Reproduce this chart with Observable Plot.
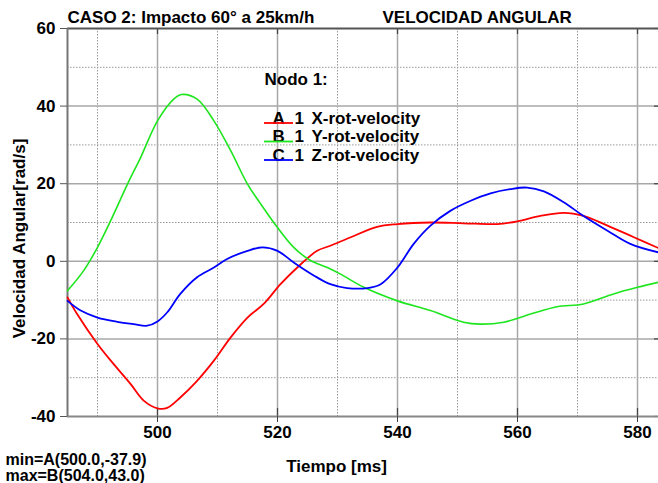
<!DOCTYPE html>
<html><head><meta charset="utf-8">
<script src="https://cdn.jsdelivr.net/npm/d3@7"></script>
<script src="https://cdn.jsdelivr.net/npm/@observablehq/plot@0.6"></script>
<style>body{margin:0;background:#fff;overflow:hidden}</style>
</head><body><div id="chart"></div>
<script>
// ---- data ----
const tX = [485, 486.6, 490, 492.7, 495.5, 497.7, 500, 501.6, 503.8, 506.6, 509.4, 512.2, 515, 517.7, 520.5, 523.3, 526.6, 528.8, 532.2, 536.6, 540, 545.5, 551, 556.6, 560, 563.8, 567.7, 571, 575, 579.4, 583.5];
const vX = [-9.3, -13.6, -21.3, -26.5, -31.6, -35.9, -37.9, -37.8, -35.1, -30.8, -25.6, -19.6, -14.5, -11.0, -5.9, -1.6, 2.7, 4.0, 6.2, 8.9, 9.6, 10.0, 9.8, 9.6, 10.3, 11.7, 12.5, 11.7, 9.2, 6.2, 3.4];
const tY = [485, 487.7, 490, 492.2, 495, 497.2, 500, 502.7, 504, 506.6, 509.4, 512.2, 515, 517.2, 520, 522.7, 525.5, 528.3, 530.5, 534.4, 540, 545.5, 551, 553.8, 557.7, 562.2, 566.6, 571, 576, 580, 583.5];
const vY = [-7.6, -2.4, 3.6, 10.5, 19.9, 26.8, 36.2, 41.8, 43.0, 41.8, 36.2, 28.5, 19.9, 14.8, 8.7, 3.6, 0.2, -1.6, -3.3, -6.7, -10.2, -12.7, -15.7, -16.2, -15.7, -13.6, -11.7, -11.0, -8.4, -6.7, -5.4];
const tZ = [485, 487.2, 490, 493.3, 496, 498.3, 500, 501.6, 503.8, 506.6, 509.4, 511.6, 515, 517.5, 520, 522.7, 526.1, 528.8, 531.6, 535, 537.2, 540, 542.7, 545.5, 548.8, 552.2, 555.5, 558.8, 561.6, 564.4, 567.7, 571, 575, 578.8, 583.5];
const vZ = [-10.2, -12.7, -14.5, -15.6, -16.2, -16.6, -15.5, -13.2, -8.4, -4.1, -1.6, 0.6, 2.7, 3.6, 2.7, -0.3, -3.7, -5.9, -6.9, -6.9, -5.9, -1.6, 4.5, 9.2, 13.0, 15.6, 17.5, 18.6, 19.0, 18.0, 15.2, 11.7, 7.9, 4.5, 2.3];

const xMajor = [500, 520, 540, 560, 580];
const xMinor = [490, 510, 530, 550, 570];
const yMajor = [-40, -20, 0, 20, 40, 60];
const yMinor = [-30, -10, 10, 30, 50];

const legendKeys = ["A", "B", "C"];
const legendNums = ["1", "1", "1"];
const legendNames = ["X-rot-velocity", "Y-rot-velocity", "Z-rot-velocity"];
const colors = ["#ff0000", "#1ee61e", "#0000ff"];

const titleLeft = "CASO 2: Impacto 60° a 25km/h";
const titleRight = "VELOCIDAD ANGULAR";
const xLabel = "Tiempo [ms]";
const yLabel = "Velocidad Angular[rad/s]";
const legendTitle = "Nodo 1:";
const minText = "min=A(500.0,-37.9)";
const maxText = "max=B(504.0,43.0)";

// ---- layout ----
const W = 658, H = 483, ML = 67, MR = 0, MT = 28, MB = 67;
const FH = H - MT - MB, FW = W - ML - MR;
const FONT = "Liberation Sans, Arial, sans-serif";

const toRows = (ts, vs) => ts.map((t, i) => ({t, v: vs[i]}));

function txt(s, px, py, o = {}) {
  return Plot.text([s], {text: d => d, frameAnchor: "top-left", dx: px - ML, dy: py - MT,
    textAnchor: "start", lineAnchor: "bottom", fill: "#000", fontSize: 17, fontWeight: "bold", ...o});
}

const legendMarks = [];
legendKeys.forEach((k, i) => {
  const by = 123 + i * 18.5;
  legendMarks.push(txt(k, 272, by));
  legendMarks.push(txt(legendNums[i], 294, by));
  legendMarks.push(txt(legendNames[i], 311, by));
});

const chart = Plot.plot({
  width: W, height: H,
  marginLeft: ML, marginRight: MR, marginTop: MT, marginBottom: MB,
  x: {domain: [485, 583.5]},
  y: {domain: [-40, 60]},
  style: {fontFamily: FONT, fontSize: "17px", fontWeight: "bold", background: "#fff", overflow: "visible"},
  marks: [
    Plot.ruleX(xMinor, {stroke: "#999", strokeDasharray: "1.5,1.5", strokeWidth: 1}),
    Plot.ruleY(yMinor, {stroke: "#999", strokeDasharray: "1.5,1.5", strokeWidth: 1}),
    Plot.ruleX(xMajor, {stroke: "#a8a8a8", strokeWidth: 1.5}),
    Plot.ruleY(yMajor.slice(1, -1), {stroke: "#a8a8a8", strokeWidth: 1.5}),
    Plot.ruleX(xMajor, {stroke: "#444", strokeWidth: 1.2, insetBottom: FH - 6}),
    Plot.ruleX(xMajor, {stroke: "#444", strokeWidth: 1.2, insetTop: FH - 8}),
    Plot.ruleY(yMajor, {stroke: "#444", strokeWidth: 1.2, insetLeft: FW - 4}),
    Plot.ruleY([60], {stroke: "#555", strokeWidth: 2}),
    Plot.ruleY([-40], {stroke: "#888", strokeWidth: 2}),
    Plot.ruleX([485], {stroke: "#777", strokeWidth: 2}),
    Plot.axisX({ticks: xMajor, tickSize: 6, tickPadding: 3, tickFormat: d => String(d), label: null,
      stroke: "#444", fontSize: 17, fontWeight: "bold", fill: "#000"}),
    Plot.axisY({ticks: yMajor, tickSize: 7, tickPadding: 5, tickFormat: d => String(d), label: null,
      stroke: "#555", fontSize: 17, fontWeight: "bold", fill: "#000"}),
    Plot.line(toRows(tX, vX), {x: "t", y: "v", stroke: colors[0], strokeWidth: 1.8, curve: "catmull-rom"}),
    Plot.line(toRows(tY, vY), {x: "t", y: "v", stroke: colors[1], strokeWidth: 1.6, curve: "catmull-rom"}),
    Plot.line(toRows(tZ, vZ), {x: "t", y: "v", stroke: colors[2], strokeWidth: 1.8, curve: "catmull-rom"}),
    txt(titleLeft, 67, 22),
    txt(titleRight, 382, 22),
    txt(legendTitle, 264, 84),
    ...legendMarks,
    txt(xLabel, 336, 471, {textAnchor: "middle"}),
    txt(minText, 5, 464, {fontSize: 16}),
    txt(maxText, 5, 480, {fontSize: 16}),
    Plot.text([yLabel], {text: d => d, frameAnchor: "left", rotate: -90, dx: 24 - ML, dy: 238 - (MT + FH / 2),
      textAnchor: "middle", lineAnchor: "bottom", fill: "#000", fontSize: 17, fontWeight: "bold"})
  ]
});

// legend swatch underlines
const svg = d3.select(chart);
const g = svg.append("g");
legendKeys.forEach((k, i) => {
  const by = 123 + i * 18.5;
  g.append("line").attr("x1", 264).attr("x2", 293).attr("y1", by).attr("y2", by)
    .attr("stroke", colors[i]).attr("stroke-width", 1.8);
});

document.getElementById("chart").appendChild(chart);
</script>
</body></html>
